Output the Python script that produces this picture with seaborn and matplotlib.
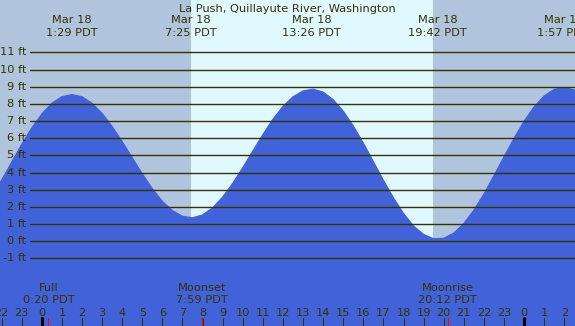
import matplotlib
matplotlib.use("Agg")
import matplotlib.pyplot as plt
import seaborn as sns

# tide height (ft) read every half hour, hours from midnight Mar 18 (PDT)
hours = [-2.5, -2.0, -1.5, -1.0, -0.5, 0.0, 0.5, 1.0, 1.5, 2.0,
         2.5, 3.0, 3.5, 4.0, 4.5, 5.0, 5.5, 6.0, 6.5, 7.0,
         7.5, 8.0, 8.5, 9.0, 9.5, 10.0, 10.5, 11.0, 11.5, 12.0,
         12.5, 13.0, 13.5, 14.0, 14.5, 15.0, 15.5, 16.0, 16.5, 17.0,
         17.5, 18.0, 18.5, 19.0, 19.5, 20.0, 20.5, 21.0, 21.5, 22.0,
         22.5, 23.0, 23.5, 24.0, 24.5, 25.0, 25.5, 26.0, 26.5, 27.0]
levels = [2.59, 3.57, 4.61, 5.65, 6.60, 7.42, 8.04, 8.42, 8.55, 8.42,
          8.04, 7.45, 6.69, 5.81, 4.87, 3.93, 3.07, 2.33, 1.79, 1.46,
          1.37, 1.54, 1.95, 2.58, 3.38, 4.29, 5.26, 6.22, 7.11, 7.86,
          8.42, 8.76, 8.86, 8.69, 8.25, 7.58, 6.72, 5.72, 4.64, 3.55,
          2.53, 1.62, 0.89, 0.40, 0.15, 0.18, 0.48, 1.04, 1.82, 2.76,
          3.83, 4.93, 6.01, 7.00, 7.84, 8.47, 8.85, 8.96, 8.81, 8.42]

extreme_hours = [1.483, 7.417, 13.433, 19.700, 25.950]
extreme_dates = ["Mar 18", "Mar 18", "Mar 18", "Mar 18", "Mar 18"]
extreme_times = ["1:29 PDT", "7:25 PDT", "13:26 PDT", "19:42 PDT", "1:57 PDT"]

moon_hours = [0.333, 7.983, 20.2]
moon_names = ["Full", "Moonset", "Moonrise"]
moon_times = ["0:20 PDT", "7:59 PDT", "20:12 PDT"]

sunrise, sunset = 7.41, 19.46
tick_hours = list(range(-2, 27))
ft_levels = list(range(-1, 12))

night = "#b0c4de"
day = "#e0f8ff"
blue = "#4162d8"
ink = "#333300"

sns.set_style("white")
plt.rcParams["font.family"] = ["DejaVu Sans"]

W, H = 575, 326
fig = plt.figure(figsize=(W / 100, H / 100), dpi=100)
ax = fig.add_axes([0, 0, 1, 1])
ax.set_xlim(-2.08, 26.53)
ax.set_ylim(-4.93, 14.05)
ax.set_facecolor(night)
for s in ax.spines.values():
    s.set_visible(False)
ax.set_xticks([])
ax.set_yticks([])

ax.axvspan(sunrise, sunset, color=day, lw=0, zorder=0)
ax.fill_between(hours, levels, -6, color=blue, lw=0, zorder=1)
sns.lineplot(x=hours, y=levels, ax=ax, color=blue, lw=0.8, zorder=2)

xt = ax.get_xaxis_transform()
yt = ax.get_yaxis_transform()
fs = 8.2

for v in ft_levels:
    ax.axhline(v, xmin=29.5 / W, xmax=1, color=ink, lw=1.0, zorder=3)
    ax.text(26 / W, v, f"{v} ft", transform=yt, ha="right", va="center",
            fontsize=fs, color=ink, zorder=4)

ax.text(0.5, 1 - 11.7 / H, "La Push, Quillayute River, Washington",
        transform=ax.transAxes, ha="center", va="baseline", fontsize=fs, color=ink)

for h, d, t in zip(extreme_hours, extreme_dates, extreme_times):
    ax.text(h, 1 - 22.7 / H, d, transform=xt, ha="center", va="baseline",
            fontsize=fs, color=ink)
    ax.text(h, 1 - 35.7 / H, t, transform=xt, ha="center", va="baseline",
            fontsize=fs, color=ink)

for h, n, t in zip(moon_hours, moon_names, moon_times):
    ax.text(h, (H - 290.7) / H, n, transform=xt, ha="center", va="baseline",
            fontsize=fs, color=ink)
    ax.text(h, (H - 303.3) / H, t, transform=xt, ha="center", va="baseline",
            fontsize=fs, color=ink)
    ax.axvline(h, ymin=0, ymax=8 / H, color="red", lw=0.8, zorder=5)

for h in tick_hours:
    thick = h % 24 == 0
    ax.axvline(h, ymin=0, ymax=8 / H, color="black" if thick else ink,
               lw=2.2 if thick else 0.75, zorder=4)
    ax.text(h, (H - 316) / H, str(h % 24), transform=xt, ha="center",
            va="baseline", fontsize=fs, color=ink)

fig.savefig("out.png", dpi=100)
